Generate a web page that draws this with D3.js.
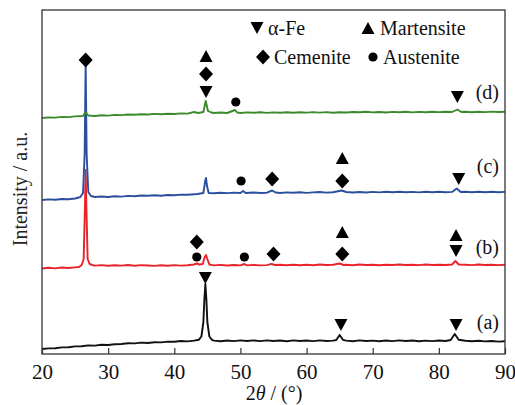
<!DOCTYPE html>
<html><head><meta charset="utf-8">
<script src="https://cdn.jsdelivr.net/npm/d3@7"></script>
<style>body{margin:0;background:#fff}svg{display:block}text{font-family:"Liberation Serif","Times New Roman",serif}</style>
</head><body>
<svg id="c" width="515" height="405"></svg>
<script>
// 2θ (deg), intensity (a.u., stacked)
const seriesA = [[20,5],[21,5.6],[22,5.8],[23,6.6],[24,6.8],[25,7.6],[26,7.8],[27,8.6],[28,8.4],[29,9.2],[30,9],[31,9.8],[32,10],[33,10.8],[34,10.6],[35,11.4],[36,11],[37,11.8],[38,11.6],[39,12.4],[40,12.2],[41,13],[42,12.6],[43,13.4],[43.7,14.2],[44.1,17.5],[44.4,32],[44.55,55],[44.7,70],[44.85,55],[45.0,32],[45.3,17.5],[45.7,14.2],[46,13.4],[47,12.8],[48,13.5],[49,12.9],[50,13.6],[51,13],[52,13.6],[53,12.9],[54,13.6],[55,13],[56,13.5],[57,12.8],[58,13.6],[59,13],[60,13.5],[61,12.9],[62,13.6],[63,13],[64,13.4],[64.5,14],[65,19],[65.5,14.2],[66,13.4],[67,12.8],[68,13.6],[69,13],[70,13.4],[71,12.8],[72,13.5],[73,12.9],[74,13.6],[75,13],[76,13.5],[77,12.8],[78,13.4],[79,12.9],[80,13.5],[81,13],[81.8,14],[82.4,20],[83.0,14.2],[84,13.2],[85,12.7],[86,13.3],[87,12.6],[88,13],[89,12.4],[90,12.8]];
const seriesB = [[20,85.5],[21,86.2],[22,85.6],[23,86.5],[24,86],[25,86.6],[25.6,87],[26,89],[26.3,95],[26.5,150],[26.6,184],[26.7,150],[26.9,95],[27.2,90],[27.6,89],[28,88.4],[29,88.9],[30,88.2],[31,88.8],[32,88.4],[33,89],[34,88.2],[35,88.9],[36,88.5],[37,88.1],[38,88.8],[39,88.3],[40,88.9],[41,88.4],[42,88.8],[43,89.5],[43.4,90.5],[43.8,89.5],[44.3,90],[44.6,97],[44.8,99],[45,95],[45.3,89.5],[46,88.6],[47,89.1],[48,88.5],[49,89],[50,88.6],[50.6,90],[51,88.6],[52,89.1],[53,88.6],[54,88.9],[54.7,90.2],[55.2,89],[56,89.2],[57,88.7],[58,89.3],[59,88.8],[60,89.3],[61,88.8],[62,89.5],[63,89],[64,89.2],[65,90.5],[65.6,89],[66,89.2],[67,88.8],[68,89.5],[69,89],[70,89.3],[71,88.8],[72,89.3],[73,89],[74,89.5],[75,89],[76,89.3],[77,88.9],[78,89.5],[79,89],[80,89.3],[81,89],[82,89.5],[82.5,93],[83,89.5],[84,89.2],[85,88.9],[86,89.5],[87,89],[88,89.3],[89,88.9],[90,89.2]];
const seriesC = [[20,154],[21,154.6],[22,154.2],[23,155],[24,154.8],[25,155.5],[25.8,157],[26.2,161],[26.45,200],[26.6,292],[26.75,200],[27,162],[27.4,158],[28,157],[29,157.5],[30,157],[31,157.8],[32,157.4],[33,158.1],[34,157.8],[35,158.5],[36,158.2],[37,158.8],[38,158.3],[39,159],[40,158.8],[41,159.4],[42,159.3],[43,159.8],[43.5,160],[44.4,161],[44.7,174],[44.8,176],[44.95,168],[45.2,161],[46,160.8],[47,161.3],[48,160.9],[49,161.4],[50,161],[50.4,163],[50.8,161],[52,161.5],[53,161],[54,161.3],[54.8,163.5],[55.3,161.5],[56,161],[57,161.6],[58,161.2],[59,161.7],[60,161.1],[61,161.6],[62,162],[63,161.4],[64,161.8],[65.3,163.5],[66,162],[67,161.5],[68,162],[69,161.5],[70,162.1],[71,161.6],[72,162.2],[73,161.7],[74,162.2],[75,161.7],[76,162.1],[77,161.6],[78,162.2],[79,161.8],[80,162.2],[81,161.7],[82,162.1],[82.7,165.5],[83.3,162],[84,162.2],[85,161.7],[86,162.2],[87,161.8],[88,162.3],[89,161.8],[90,162.1]];
const seriesD = [[20,236],[21,236.6],[22,236.4],[23,237.1],[24,236.9],[25,237.6],[26.2,238],[26.6,242],[27,238.5],[28,238],[29,238.7],[30,238.4],[31,239.1],[32,238.9],[33,239.5],[34,239.3],[35,239.8],[36,239.5],[37,240.1],[38,239.8],[39,240.3],[40,240],[41,240.6],[42,240.4],[43,242],[43.6,241],[44.4,242],[44.75,253],[45.1,243],[45.6,241.5],[46,241],[47,241.5],[48,241],[49.2,244],[49.5,241.5],[50,241],[51,241.6],[52,241.2],[53,241.7],[54,241.1],[55,241.6],[56,241.3],[57,241.8],[58,241.2],[59,241.7],[60,241.4],[61,241.9],[62,241.4],[63,241.9],[64,241.3],[65,241.8],[66,241.5],[67,242],[68,241.7],[69,242.2],[70,241.6],[71,242],[72,241.5],[73,242.1],[74,241.8],[75,242.2],[76,241.6],[77,242.1],[78,241.8],[79,242.3],[80,241.9],[81,242.3],[82,242],[82.8,244.5],[83.4,242],[84,242.2],[85,241.8],[86,242.3],[87,241.9],[88,242.4],[89,242],[90,242.2]];

const seriesNames = ["(a)","(b)","(c)","(d)"];
const seriesColors = ["#111111","#e8232a","#2b4f9e","#3b8a2c"];
const xTicks = [20,30,40,50,60,70,80,90];

// phase markers: [symbol, 2θ, intensity position]
const markers = [
  ["down",44.7,76],["down",65.2,29],["down",82.6,29],
  ["diamond",43.4,112],["circle",43.4,97],["circle",50.6,97],["diamond",55,100],["up",65.4,122],["diamond",65.4,100],["up",82.6,119],["down",82.6,103],
  ["circle",50.1,173],["diamond",54.8,175],["up",65.4,196],["diamond",65.4,173],["down",83.0,175],
  ["diamond",26.6,294],["up",44.8,298],["diamond",44.8,280],["down",44.8,262],["circle",49.3,252],["down",82.8,257]
];
const legendItems = [["down","α-Fe"],["up","Martensite"],["diamond","Cemenite"],["circle","Austenite"]];

const svg = d3.select("#c");
const L=42, R=505, T=10, B=354;
const x = d3.scaleLinear().domain([20,90]).range([L,R]);
const y = d3.scaleLinear().domain([0,344]).range([B,T]);

function sym(g, type, cx, cy){
  if(type==="down") g.append("path").attr("d",`M${cx-6.5},${cy-6}L${cx+6.5},${cy-6}L${cx},${cy+6}Z`).attr("fill","#000");
  else if(type==="up") g.append("path").attr("d",`M${cx-6.5},${cy+6}L${cx+6.5},${cy+6}L${cx},${cy-6}Z`).attr("fill","#000");
  else if(type==="diamond") g.append("path").attr("d",`M${cx},${cy-7.5}L${cx+7},${cy}L${cx},${cy+7.5}L${cx-7},${cy}Z`).attr("fill","#000");
  else g.append("circle").attr("cx",cx).attr("cy",cy).attr("r",4.6).attr("fill","#000");
}

const line = d3.line().x(d=>x(d[0])).y(d=>y(d[1]));
const all=[seriesA,seriesB,seriesC,seriesD];
svg.append("defs").append("clipPath").attr("id","clp").append("rect").attr("x",L).attr("y",T).attr("width",R-L).attr("height",B-T);
const gl = svg.append("g").attr("clip-path","url(#clp)");
all.forEach((s,i)=>{
  gl.append("path").datum(s).attr("d",line).attr("fill","none").attr("stroke",seriesColors[i]).attr("stroke-width",1.9).attr("stroke-linejoin","round");
});

// frame
svg.append("rect").attr("x",L).attr("y",T).attr("width",R-L).attr("height",B-T).attr("fill","none").attr("stroke","#333").attr("stroke-width",1.3);

// x axis
const ax = svg.append("g").attr("transform",`translate(0,${B})`)
  .call(d3.axisBottom(x).tickValues(xTicks).tickSize(-6).tickPadding(12).tickFormat(d3.format("d")));
ax.select(".domain").remove();
ax.selectAll(".tick line").attr("stroke","#333").attr("stroke-width",1.2);
ax.selectAll(".tick text").attr("font-size",21).attr("fill","#111").attr("font-family","Liberation Serif").attr("dy","0").attr("y",25);

// titles
const xt = svg.append("text").attr("x",274).attr("y",400).attr("text-anchor","middle").attr("font-size",20).attr("fill","#111");
xt.append("tspan").text("2");
xt.append("tspan").attr("font-style","italic").text("θ");
xt.append("tspan").text(" / (°)");
svg.append("text").attr("transform","translate(27,189) rotate(-90)").attr("text-anchor","middle").attr("font-size",20).attr("fill","#222").text("Intensity / a.u.");

// markers
const gm = svg.append("g");
markers.forEach(m=>sym(gm,m[0],x(m[1]),y(m[2])));

// series labels
const labelPos=[[329],[254],[173],[99]];
seriesNames.forEach((n,i)=>{
  svg.append("text").attr("x",499).attr("y",labelPos[i][0]).attr("text-anchor","end").attr("font-size",20).attr("fill","#111").text(n);
});

// legend
const lg = svg.append("g");
const lpos=[[257,28,268,35],[368,28,380,35],[263,57,274,64],[373,57,383,64]];
legendItems.forEach((it,i)=>{
  const p=lpos[i];
  sym(lg,it[0],p[0],p[1]);
  lg.append("text").attr("x",p[2]).attr("y",p[3]).attr("font-size",20).attr("fill","#111").text(it[1]);
});
</script>
</body></html>
